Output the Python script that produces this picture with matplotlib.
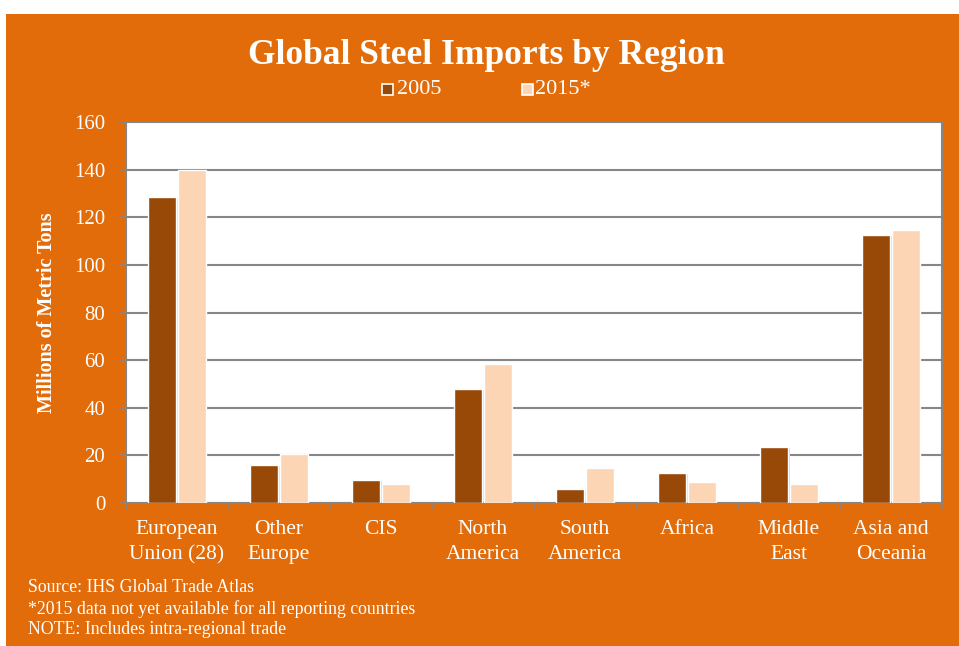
import matplotlib.pyplot as plt
from matplotlib.patches import Rectangle
import numpy as np

regions = ["European\nUnion (28)", "Other\nEurope", "CIS", "North\nAmerica",
           "South\nAmerica", "Africa", "Middle\nEast", "Asia and\nOceania"]
imports_2005 = [128.6, 15.8, 9.6, 47.9, 5.9, 12.4, 23.4, 112.5]
imports_2015 = [140.0, 20.7, 7.8, 58.3, 14.6, 8.9, 7.8, 114.5]
years = ["2005", "2015*"]
yticks = [0, 20, 40, 60, 80, 100, 120, 140, 160]

orange = "#e36c0a"
brown = "#984807"
peach = "#fcd5b5"
grid_gray = "#868686"

plt.rcParams["font.family"] = ["Liberation Serif", "DejaVu Serif"]

fig = plt.figure(figsize=(9.59, 6.46), dpi=100)
W, H = 959, 646

# orange panel behind everything
fig.patches.append(Rectangle((6 / W, 0), 1 - 6 / W, 1 - 14 / H,
                             transform=fig.transFigure, facecolor=orange,
                             edgecolor="none", zorder=-1))

ax = fig.add_axes([126 / W, 1 - 503 / H, (942 - 126) / W, (503 - 122) / H])
ax.set_facecolor("white")

x = np.arange(len(regions))
bw = 0.275
gap = 0.012
for dx, vals, col in [(-bw / 2 - gap / 2, imports_2005, brown),
                      (bw / 2 + gap / 2, imports_2015, peach)]:
    # soft shadow, then the bar itself
    ax.bar(x + dx + 0.012, vals, bw, bottom=-0.4, color="#d9d9d9",
           edgecolor="none", zorder=2)
    ax.bar(x + dx, vals, bw, color=col, edgecolor="white",
           linewidth=1.0, zorder=3)

ax.set_xlim(-0.5, len(regions) - 0.5)
ax.set_ylim(0, 160)
ax.set_yticks(yticks)
ax.set_yticklabels([str(t) for t in yticks], color="white", fontsize=15)
ax.yaxis.grid(True, color=grid_gray, linewidth=1.5, zorder=1)
ax.set_axisbelow(True)

ax.set_xticks(np.arange(len(regions) + 1) - 0.5, minor=False)
ax.set_xticklabels([])
ax.tick_params(axis="x", length=5, width=1.2, color=grid_gray, direction="out")
ax.tick_params(axis="y", length=5, width=1.2, color=grid_gray, direction="out",
               pad=10)
for i, r in enumerate(regions):
    ax.text(i, -7, r, ha="center", va="top", color="white", fontsize=15.5,
            linespacing=1.45, clip_on=False)

for s in ["left", "bottom", "right"]:
    ax.spines[s].set_color(grid_gray)
    ax.spines[s].set_linewidth(1.5)
ax.spines["top"].set_visible(False)

ax.set_ylabel("Millions of Metric Tons", color="white", fontsize=14.5,
              fontweight="bold", labelpad=12)

fig.text(486 / W, 1 - 55 / H, "Global Steel Imports by Region", ha="center",
         va="center", color="white", fontsize=25.5, fontweight="bold")

# legend drawn by hand
for mx, tx, col, label in [(382, 397, brown, years[0]),
                           (522, 535, peach, years[1])]:
    fig.patches.append(Rectangle((mx / W, 1 - 95 / H), 11 / W, 11 / H,
                                 transform=fig.transFigure, facecolor=col,
                                 edgecolor="white", linewidth=1.2, zorder=3))
    fig.text(tx / W, 1 - 90 / H, label, ha="left", va="center",
             color="white", fontsize=16)

notes = ["Source: IHS Global Trade Atlas",
         "*2015 data not yet available for all reporting countries",
         "NOTE: Includes intra-regional trade"]
for i, n in enumerate(notes):
    fig.text(28 / W, 1 - (588 + i * 21) / H, n, ha="left", va="center",
             color="white", fontsize=12.8)

fig.savefig("out.png", dpi=100, facecolor="white")
